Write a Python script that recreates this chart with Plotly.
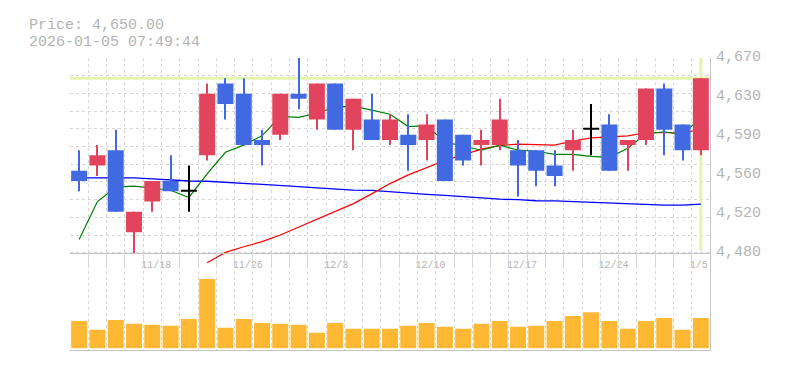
import plotly.graph_objects as go

# ---------------- data ----------------
dates = ['11/12', '11/13', '11/14', '11/17', '11/18', '11/19', '11/20', '11/21',
         '11/25', '11/26', '11/27', '11/28', '12/1', '12/2', '12/3', '12/4', '12/5',
         '12/8', '12/9', '12/10', '12/11', '12/12', '12/15', '12/16', '12/17',
         '12/18', '12/19', '12/22', '12/23', '12/24', '12/25', '12/26', '12/29',
         '12/30', '1/5']
opens = [4560, 4565, 4580, 4500, 4530, 4550, 4540, 4575, 4645, 4635, 4590, 4595,
         4635, 4610, 4645, 4600, 4610, 4590, 4595, 4590, 4610, 4595, 4585, 4585,
         4580, 4580, 4565, 4580, 4600, 4605, 4585, 4590, 4640, 4605, 4580]
highs = [4580, 4585, 4600, 4520, 4550, 4575, 4565, 4645, 4650, 4650, 4600, 4635,
         4670, 4645, 4645, 4630, 4635, 4615, 4615, 4615, 4610, 4595, 4600, 4630,
         4590, 4580, 4580, 4600, 4625, 4615, 4590, 4640, 4645, 4605, 4650]
lows = [4540, 4555, 4520, 4480, 4520, 4540, 4520, 4570, 4610, 4585, 4565, 4590,
        4620, 4600, 4600, 4580, 4590, 4585, 4560, 4570, 4550, 4565, 4565, 4580,
        4535, 4545, 4545, 4560, 4575, 4560, 4560, 4585, 4575, 4570, 4575]
closes = [4550, 4575, 4520, 4520, 4550, 4540, 4540, 4635, 4625, 4585, 4585, 4635,
          4630, 4645, 4600, 4630, 4590, 4610, 4585, 4605, 4550, 4570, 4590, 4610,
          4565, 4560, 4555, 4590, 4600, 4560, 4590, 4640, 4600, 4580, 4650]
volumes = [28, 19, 29, 25, 24, 23, 30, 71, 21, 30, 26, 25, 24, 16, 26, 20, 20,
           20, 23, 26, 22, 20, 25, 28, 22, 23, 28, 33, 37, 28, 20, 28, 31, 19, 31]
ma_short = [4493, 4530, 4544, 4545, 4543, 4541, 4534, 4557, 4578, 4585, 4594, 4613,
            4612, 4616, 4622, 4623, 4619, 4615, 4603, 4604, 4588, 4584, 4580, 4585,
            4580, 4579, 4576, 4576, 4574, 4573, 4582, 4596, 4598, 4595, 4612]
ma_mid = [None, None, None, None, None, None, None, 4470.5, 4480.5, 4486, 4491,
          4497.5, 4505, 4513, 4520, 4528, 4537.5, 4547.5, 4556, 4563, 4570, 4575.5,
          4581, 4584.5, 4586, 4585.5, 4585, 4589, 4592, 4593, 4594, 4597, 4597,
          4597, 4600]
ma_long = [4553, 4553, 4553, 4553, 4552, 4551, 4550, 4549.8, 4548.9, 4548, 4547,
           4545.5, 4544.6, 4543.4, 4542, 4541.1, 4540.8, 4539.4, 4538, 4537, 4536,
           4534.6, 4533.2, 4532.3, 4531.8, 4530.8, 4530.7, 4530, 4529.6, 4528.6,
           4527.5, 4527, 4526.5, 4526.5, 4527.5]
x_labels = ['11/18', '11/26', '12/3', '12/10', '12/17', '12/24', '1/5']
y_tick_values = [4480, 4518, 4556, 4594, 4632, 4670]
y_tick_labels = ['4,480', '4,520', '4,560', '4,590', '4,630', '4,670']
last_price = 4650
header_lines = ['Price: 4,650.00', '2026-01-05 07:49:44']

# ---------------- style / geometry ----------------
W, H = 785, 370
LEFT, RIGHT = 70, 710
TOP, MID, BOT = 50, 250, 350
EXT = 265                 # price panel extends a little below its baseline
Y_MIN, Y_MAX = 4480, 4670
GRID_DIV = 11
VOL_LO, VOL_HI = -2.3, 97.7

RED = '#e2445e'
BLUE = '#4169e1'
BLACK = '#000000'
VOLC = '#ffb833'
GRID = '#d6d6d6'
AXC = '#c4c4c4'
TXT = '#b4b4b4'
HL = '#e4f4ad'
FONT = 'Liberation Mono'

n = len(dates)
xs = list(range(n))
slot = (RIGHT - LEFT) / n
body_w = 16 / slot
wick_w = 1 / slot
upp = (Y_MAX - Y_MIN) / (MID - TOP)
y_lo = Y_MIN - (EXT - MID) * upp

colors = [RED if c > o else (BLUE if c < o else BLACK) for o, c in zip(opens, closes)]
body_base = [min(o, c) for o, c in zip(opens, closes)]
body_h = [max(abs(c - o), upp) for o, c in zip(opens, closes)]
wick_h = [h - l for h, l in zip(highs, lows)]

fig = go.Figure()

# moving averages (main price subplot, beneath the candles)
fig.add_trace(go.Scatter(x=xs, y=ma_long, mode='lines', line=dict(color='#0000ff', width=1.3),
                         hoverinfo='skip'))
fig.add_trace(go.Scatter(x=xs, y=ma_mid, mode='lines', line=dict(color='#ff0000', width=1.2),
                         hoverinfo='skip'))
fig.add_trace(go.Scatter(x=xs, y=ma_short, mode='lines', line=dict(color='#008000', width=1.2),
                         hoverinfo='skip'))

# candles on the overlaid price axis (drawn above the averages)
fig.add_trace(go.Bar(x=xs, y=wick_h, base=lows, width=wick_w, yaxis='y4',
                     marker=dict(color=colors, line=dict(width=0)), hoverinfo='skip'))
fig.add_trace(go.Bar(x=xs, y=body_h, base=body_base, width=body_w, yaxis='y4',
                     marker=dict(color=colors, line=dict(width=0)), hoverinfo='skip'))

# volume
fig.add_trace(go.Bar(x=xs, y=volumes, width=body_w, xaxis='x2', yaxis='y2',
                     marker=dict(color=VOLC, line=dict(width=0)), hoverinfo='skip'))

label_pos = []
for lab in x_labels:
    i = dates.index(lab)
    shift_px = 3 * len(lab) - 11
    label_pos.append(i + shift_px / slot)

grid_vals = [Y_MIN + k * (Y_MAX - Y_MIN) / GRID_DIV for k in range(GRID_DIV + 1)]
minor_x = dict(tick0=-0.5, dtick=1, showgrid=True, gridcolor=GRID, gridwidth=1,
               griddash='3px,3px', ticks='')

fig.update_layout(
    width=W, height=H,
    margin=dict(l=0, r=0, t=0, b=0),
    paper_bgcolor='white', plot_bgcolor='rgba(0,0,0,0)',
    showlegend=False, barmode='overlay', hovermode=False,
    xaxis=dict(domain=[LEFT / W, RIGHT / W], range=[-0.5, n - 0.5],
               anchor='free', position=(H - MID) / H,
               showline=True, linecolor=AXC, linewidth=1,
               showgrid=False, zeroline=False, ticks='',
               tickmode='array', tickvals=label_pos, ticktext=x_labels,
               tickfont=dict(family=FONT, size=10, color=TXT),
               ticklabelstandoff=2,
               minor=minor_x, fixedrange=True),
    yaxis=dict(domain=[(H - EXT) / H, (H - TOP) / H], range=[y_lo, Y_MAX],
               side='right', showline=True, linecolor=AXC, linewidth=1,
               tickmode='array', tickvals=grid_vals, showticklabels=False, ticks='',
               showgrid=True, gridcolor=GRID, gridwidth=1, griddash='3px,3px',
               zeroline=False, fixedrange=True),
    yaxis4=dict(overlaying='y', anchor='x', side='right', range=[y_lo, Y_MAX],
                tickmode='array', tickvals=y_tick_values, ticktext=y_tick_labels,
                tickfont=dict(family=FONT, size=15, color=TXT),
                showgrid=False, zeroline=False, showline=False, ticks='',
                ticklabelstandoff=5, ticklabelshift=-2, fixedrange=True),
    xaxis2=dict(domain=[LEFT / W, RIGHT / W], range=[-0.5, n - 0.5], anchor='y2',
                matches='x', showline=True, linecolor=AXC, linewidth=1,
                showgrid=False, zeroline=False, showticklabels=False, ticks='',
                minor=minor_x, fixedrange=True),
    yaxis2=dict(domain=[(H - BOT) / H, (H - MID) / H], range=[VOL_LO, VOL_HI],
                anchor='x2', side='right', showline=True, linecolor=AXC, linewidth=1,
                showgrid=False, zeroline=False, showticklabels=False, ticks='',
                fixedrange=True),
)

fig.add_shape(type='line', xref='x', yref='y', x0=-0.5, x1=n - 0.5,
              y0=last_price, y1=last_price, line=dict(color=HL, width=3), layer='between')
fig.add_shape(type='line', xref='x', yref='y', x0=n - 1, x1=n - 1,
              y0=Y_MIN + 2 * upp, y1=Y_MAX, line=dict(color=HL, width=3), layer='between')

for k, txt in enumerate(header_lines):
    fig.add_annotation(text=txt, xref='paper', yref='paper', x=27 / W,
                       y=1 - (17 + 17 * k) / H, xanchor='left', yanchor='middle',
                       showarrow=False, font=dict(family=FONT, size=15, color=TXT))

fig.write_html('out.html', config={'displayModeBar': False},
               post_script="document.body.style.margin='0px';")
